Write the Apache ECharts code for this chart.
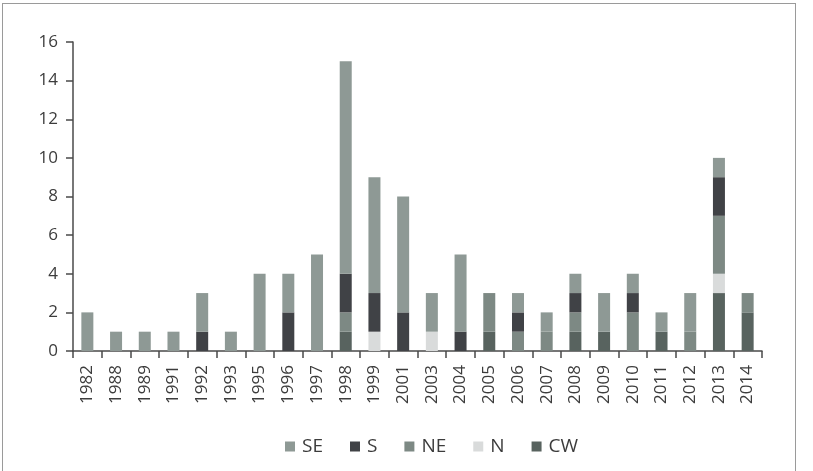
<!DOCTYPE html>
<html>
<head>
<meta charset="utf-8">
<script src="https://cdn.jsdelivr.net/npm/echarts@6/dist/echarts.min.js"></script>
<style>
    html, body { margin: 0; padding: 0; background: #fff; }
    #frame { position: absolute; left: 2px; top: 3px; width: 792px; height: 480px; border: 1px solid #9a9a9a; }
    #chart { position: absolute; left: 0; top: 0; width: 813px; height: 471px; }
</style>
</head>
<body>
<div id="frame"></div>
<div id="chart"></div>
<script>
// data
const years = ['1982', '1988', '1989', '1991', '1992', '1993', '1995', '1996', '1997', '1998', '1999', '2001',
    '2003', '2004', '2005', '2006', '2007', '2008', '2009', '2010', '2011', '2012', '2013', '2014'];
const cwData = [0, 0, 0, 0, 0, 0, 0, 0, 0, 1, 0, 0, 0, 0, 1, 0, 0, 1, 1, 0, 1, 0, 3, 2];
const nData  = [0, 0, 0, 0, 0, 0, 0, 0, 0, 0, 1, 0, 1, 0, 0, 0, 0, 0, 0, 0, 0, 0, 1, 0];
const neData = [0, 0, 0, 0, 0, 0, 0, 0, 0, 1, 0, 0, 0, 0, 2, 1, 1, 1, 0, 2, 0, 1, 3, 1];
const sData  = [0, 0, 0, 0, 1, 0, 0, 2, 0, 2, 2, 2, 0, 1, 0, 1, 0, 1, 0, 1, 0, 0, 2, 0];
const seData = [2, 1, 1, 1, 2, 1, 4, 2, 5, 11, 6, 6, 2, 4, 0, 1, 1, 1, 2, 1, 1, 2, 1, 0];
const yTicks = [0, 2, 4, 6, 8, 10, 12, 14, 16];

const chart = echarts.init(document.getElementById('chart'));

const textColor = '#3c3c3c';
const axisColor = '#4a4a4a';

function bar(name, data, color) {
    return {
        name: name,
        type: 'bar',
        stack: 'total',
        barWidth: 12,
        data: data.map(v => v === 0 ? '-' : v),
        itemStyle: { color: color },
        emphasis: { disabled: true }
    };
}

const option = {
    animation: false,
    textStyle: { fontFamily: 'Open Sans' },
    grid: { left: 73, right: 51, top: 42, bottom: 120 },
    legend: {
        left: 280,
        top: 432,
        itemWidth: 10,
        itemHeight: 10,
        itemGap: 27,
        icon: 'rect',
        data: ['SE', 'S', 'NE', 'N', 'CW'],
        textStyle: { fontSize: 19, color: textColor, fontFamily: 'Open Sans', padding: [0, 0, 0, 2] }
    },
    xAxis: {
        type: 'category',
        data: years,
        axisLine: { lineStyle: { color: axisColor, width: 1.5 } },
        axisTick: { show: true, length: 7, lineStyle: { color: axisColor, width: 1.5 } },
        axisLabel: { rotate: 90, interval: 0, margin: 14, fontSize: 17, color: textColor }
    },
    yAxis: {
        type: 'value',
        min: yTicks[0],
        max: yTicks[yTicks.length - 1],
        interval: 2,
        splitLine: { show: false },
        axisLine: { show: true, lineStyle: { color: axisColor, width: 1.5 } },
        axisTick: { show: true, length: 7, lineStyle: { color: axisColor, width: 1.5 } },
        axisLabel: { margin: 15, fontSize: 17, color: textColor }
    },
    series: [
        bar('CW', cwData, '#58635f'),
        bar('N', nData, '#d9dbdb'),
        bar('NE', neData, '#7d8984'),
        bar('S', sData, '#404246'),
        bar('SE', seData, '#8e9995')
    ]
};

chart.setOption(option);
</script>
</body>
</html>
